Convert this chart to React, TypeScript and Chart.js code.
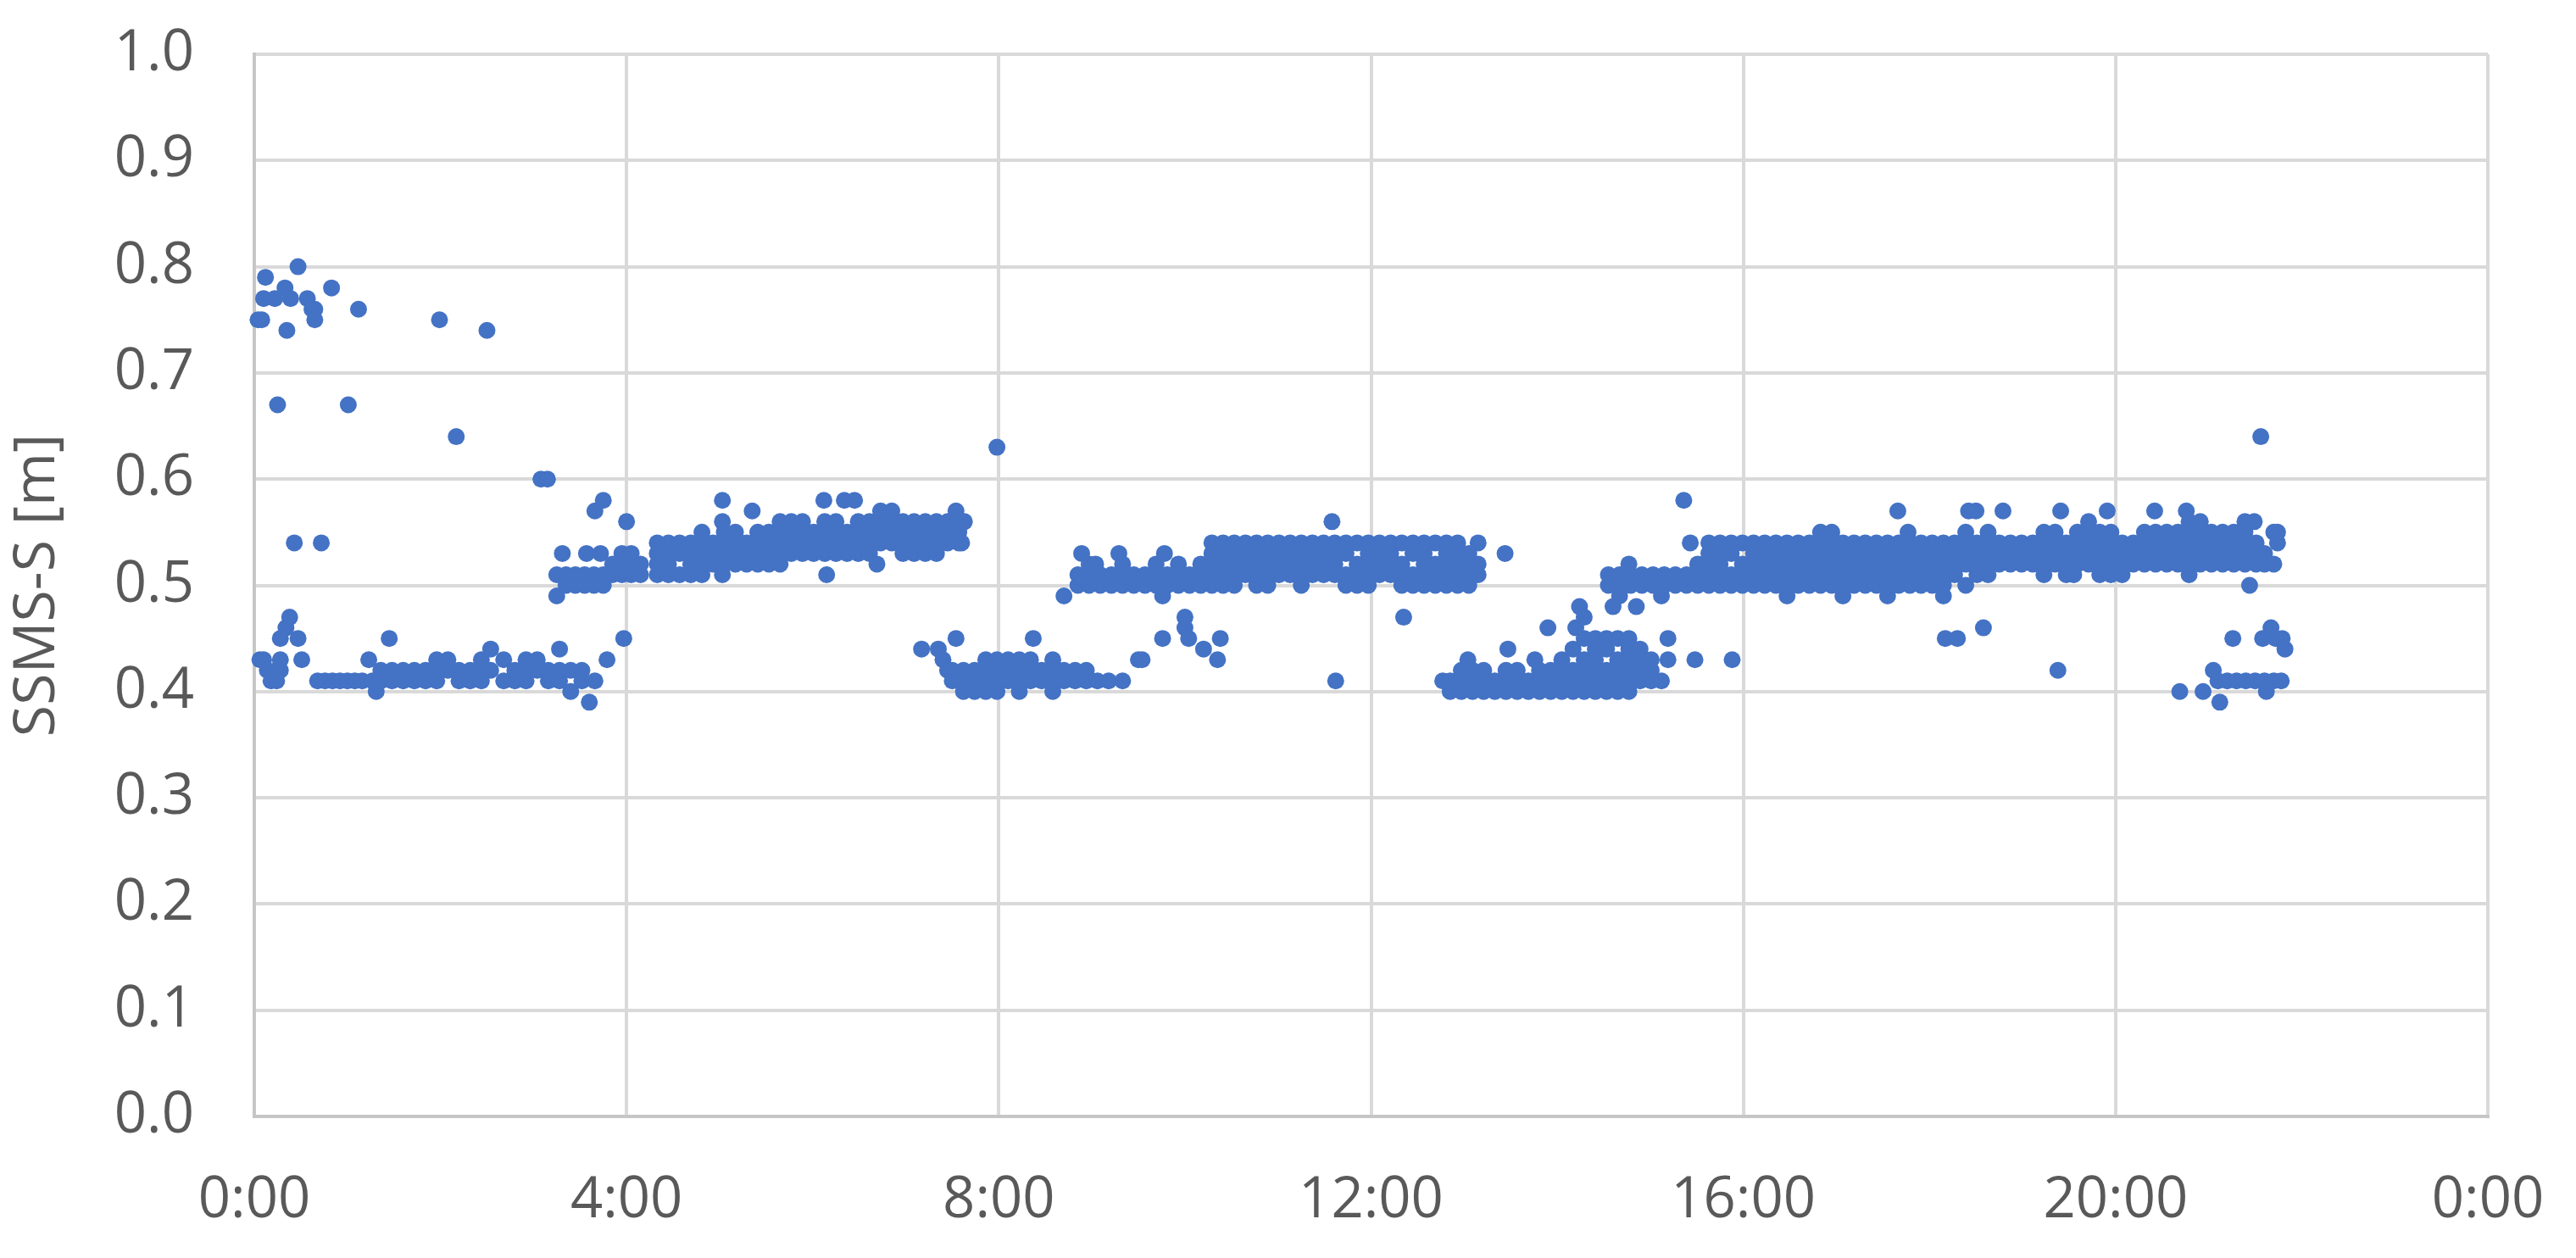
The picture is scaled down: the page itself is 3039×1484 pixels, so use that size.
import React, { useEffect, useRef } from "react";
import { Chart, registerables } from "chart.js";

Chart.register(...registerables);

// Each entry: [hour of day, value, value, ...].
const scatteredHigh: number[][] = [
  [0.04, 0.75], [0.08, 0.75], [0.10, 0.77], [0.12, 0.79], [0.22, 0.77], [0.25, 0.67],
  [0.33, 0.78], [0.35, 0.74], [0.39, 0.77], [0.43, 0.54], [0.47, 0.80], [0.57, 0.77],
  [0.62, 0.76], [0.65, 0.76, 0.75], [0.72, 0.54], [0.83, 0.78], [1.01, 0.67], [1.12, 0.76],
  [1.99, 0.75], [2.17, 0.64], [2.50, 0.74], [3.08, 0.60], [3.15, 0.60], [7.98, 0.63], [21.56, 0.64],
];

const lowBand0to4: number[][] = [
  [0.06, 0.43], [0.10, 0.43], [0.14, 0.42], [0.18, 0.41], [0.24, 0.41, 0.42], [0.28, 0.42, 0.43, 0.45],
  [0.34, 0.46], [0.38, 0.47], [0.47, 0.45], [0.51, 0.43], [0.68, 0.41], [0.76, 0.41], [0.84, 0.41],
  [0.92, 0.41], [1.00, 0.41], [1.08, 0.41], [1.16, 0.41], [1.23, 0.43], [1.27, 0.41], [1.31, 0.40],
  [1.36, 0.41, 0.42], [1.45, 0.45], [1.48, 0.41, 0.42], [1.60, 0.41, 0.42], [1.72, 0.41, 0.42],
  [1.84, 0.41, 0.42], [1.96, 0.41, 0.42, 0.43], [2.08, 0.42, 0.43], [2.20, 0.41, 0.42], [2.32, 0.41, 0.42],
  [2.44, 0.41, 0.42, 0.43], [2.54, 0.42, 0.44], [2.68, 0.41, 0.43], [2.80, 0.41, 0.42],
  [2.92, 0.41, 0.42, 0.43], [3.04, 0.42, 0.43], [3.16, 0.41, 0.42], [3.28, 0.41, 0.42, 0.44],
  [3.40, 0.40, 0.42], [3.52, 0.41, 0.42], [3.60, 0.39], [3.66, 0.41], [3.79, 0.43], [3.97, 0.45],
];

const midBand3to4: number[][] = [
  [3.25, 0.49, 0.51], [3.31, 0.53], [3.35, 0.50, 0.51], [3.45, 0.50, 0.51], [3.55, 0.50, 0.51],
  [3.57, 0.53], [3.65, 0.50, 0.51], [3.66, 0.57], [3.72, 0.53], [3.75, 0.50, 0.51, 0.58],
  [3.85, 0.51, 0.52], [3.95, 0.51, 0.52, 0.53], [4.00, 0.56], [4.05, 0.51, 0.52, 0.53], [4.15, 0.51, 0.52],
];

const highBand4to8: number[][] = [
  [4.33, 0.51, 0.52, 0.53, 0.54], [4.45, 0.51, 0.52, 0.53, 0.54], [4.57, 0.51, 0.53, 0.54],
  [4.69, 0.51, 0.52, 0.53, 0.54], [4.81, 0.51, 0.52, 0.53, 0.54, 0.55], [4.93, 0.52, 0.53, 0.54],
  [5.03, 0.58, 0.56, 0.51], [5.05, 0.52, 0.53, 0.54, 0.55], [5.17, 0.52, 0.53, 0.54, 0.55],
  [5.29, 0.52, 0.53, 0.54], [5.35, 0.57], [5.41, 0.52, 0.53, 0.54, 0.55], [5.53, 0.52, 0.53, 0.54, 0.55],
  [5.65, 0.52, 0.53, 0.54, 0.55, 0.56], [5.77, 0.53, 0.54, 0.55, 0.56], [5.89, 0.53, 0.54, 0.55, 0.56],
  [6.01, 0.53, 0.54, 0.55], [6.12, 0.58], [6.13, 0.53, 0.54, 0.55, 0.56], [6.15, 0.51],
  [6.25, 0.53, 0.54, 0.55, 0.56], [6.34, 0.58], [6.37, 0.53, 0.54, 0.55], [6.45, 0.58],
  [6.49, 0.53, 0.54, 0.55, 0.56], [6.61, 0.53, 0.54, 0.55, 0.56], [6.69, 0.52],
  [6.73, 0.54, 0.55, 0.56, 0.57], [6.85, 0.54, 0.55, 0.56, 0.57], [6.97, 0.53, 0.54, 0.55, 0.56],
  [7.09, 0.53, 0.54, 0.55, 0.56], [7.21, 0.53, 0.54, 0.55, 0.56], [7.33, 0.53, 0.54, 0.55, 0.56],
  [7.45, 0.54, 0.55, 0.56], [7.54, 0.57], [7.57, 0.54, 0.55, 0.56], [7.60, 0.54], [7.63, 0.56],
];

const lowBand7to10: number[][] = [
  [7.17, 0.44], [7.35, 0.44], [7.40, 0.43], [7.45, 0.42], [7.54, 0.45], [7.50, 0.41, 0.42],
  [7.62, 0.40, 0.41, 0.42], [7.74, 0.40, 0.41, 0.42], [7.86, 0.40, 0.41, 0.42, 0.43],
  [7.98, 0.40, 0.41, 0.42, 0.43], [8.10, 0.41, 0.42, 0.43], [8.22, 0.40, 0.41, 0.42, 0.43],
  [8.34, 0.41, 0.42, 0.43], [8.37, 0.45], [8.46, 0.41, 0.42], [8.58, 0.40, 0.41, 0.42, 0.43],
  [8.70, 0.41, 0.42], [8.82, 0.41, 0.42], [8.94, 0.41, 0.42], [9.06, 0.41], [9.18, 0.41],
  [9.33, 0.41], [9.50, 0.43],
];

const midBand9to13: number[][] = [
  [8.70, 0.49], [8.85, 0.50, 0.51], [8.89, 0.53], [8.97, 0.50, 0.51, 0.52], [9.04, 0.52],
  [9.09, 0.50, 0.51], [9.21, 0.50, 0.51], [9.29, 0.53], [9.33, 0.50, 0.51, 0.52], [9.45, 0.50, 0.51],
  [9.57, 0.50, 0.51], [9.69, 0.50, 0.51, 0.52], [9.76, 0.49], [9.78, 0.53], [9.81, 0.50, 0.51],
  [9.93, 0.50, 0.51, 0.52], [10.05, 0.50, 0.51], [10.17, 0.50, 0.51, 0.52],
  [10.29, 0.50, 0.51, 0.52, 0.53, 0.54], [10.41, 0.50, 0.51, 0.52, 0.53, 0.54],
  [10.53, 0.50, 0.51, 0.52, 0.53, 0.54], [10.65, 0.51, 0.52, 0.53, 0.54],
  [10.77, 0.50, 0.51, 0.52, 0.53, 0.54], [10.89, 0.50, 0.51, 0.52, 0.53, 0.54],
  [11.01, 0.51, 0.52, 0.53, 0.54], [11.13, 0.51, 0.52, 0.53, 0.54],
  [11.25, 0.50, 0.51, 0.52, 0.53, 0.54], [11.37, 0.51, 0.52, 0.53, 0.54],
  [11.49, 0.51, 0.52, 0.53, 0.54], [11.58, 0.56], [11.61, 0.51, 0.52, 0.53, 0.54],
  [11.73, 0.50, 0.51, 0.53, 0.54], [11.85, 0.50, 0.51, 0.52, 0.54],
  [11.97, 0.50, 0.51, 0.52, 0.53, 0.54], [12.09, 0.51, 0.52, 0.53, 0.54],
  [12.21, 0.51, 0.52, 0.53, 0.54], [12.33, 0.50, 0.51, 0.52, 0.54], [12.45, 0.50, 0.51, 0.53, 0.54],
  [12.57, 0.50, 0.51, 0.52, 0.53, 0.54], [12.69, 0.50, 0.51, 0.52, 0.54],
  [12.81, 0.50, 0.51, 0.52, 0.53, 0.54], [12.93, 0.50, 0.51, 0.52, 0.53, 0.54],
  [13.05, 0.50, 0.51, 0.52, 0.53], [13.15, 0.51, 0.52, 0.54], [13.44, 0.53],
  [9.54, 0.43], [9.76, 0.45], [10.00, 0.46, 0.47], [10.04, 0.45], [10.20, 0.44], [10.35, 0.43],
  [10.38, 0.45], [11.62, 0.41], [12.35, 0.47],
];

const lowBand13to16: number[][] = [
  [12.77, 0.41], [12.85, 0.40, 0.41], [12.97, 0.40, 0.41, 0.42], [13.04, 0.43], [13.09, 0.40, 0.41, 0.42],
  [13.21, 0.40, 0.41, 0.42], [13.33, 0.40, 0.41], [13.45, 0.40, 0.41, 0.42], [13.47, 0.44],
  [13.57, 0.40, 0.41, 0.42], [13.69, 0.40, 0.41], [13.76, 0.43], [13.81, 0.40, 0.41, 0.42],
  [13.90, 0.46], [13.93, 0.40, 0.41, 0.42], [14.05, 0.40, 0.41, 0.42, 0.43], [14.17, 0.40, 0.41, 0.42, 0.44],
  [14.20, 0.46], [14.24, 0.48], [14.29, 0.40, 0.41, 0.42, 0.43, 0.45, 0.47],
  [14.41, 0.40, 0.41, 0.42, 0.43, 0.44, 0.45], [14.53, 0.40, 0.41, 0.42, 0.44, 0.45],
  [14.65, 0.40, 0.41, 0.42, 0.43, 0.45], [14.77, 0.40, 0.41, 0.42, 0.43, 0.44, 0.45],
  [14.89, 0.41, 0.42, 0.43, 0.44], [15.01, 0.41, 0.42, 0.43], [15.12, 0.41], [15.19, 0.45, 0.43],
  [15.48, 0.43], [15.88, 0.43],
];

const midBand15to22: number[][] = [
  [14.55, 0.50, 0.51], [14.60, 0.48], [14.67, 0.49, 0.50, 0.51], [14.77, 0.52], [14.79, 0.50, 0.51],
  [14.85, 0.48], [14.91, 0.50, 0.51], [15.03, 0.50, 0.51], [15.12, 0.49], [15.15, 0.50, 0.51],
  [15.27, 0.50, 0.51], [15.36, 0.58], [15.39, 0.50, 0.51], [15.43, 0.54], [15.51, 0.50, 0.51, 0.52],
  [15.63, 0.50, 0.51, 0.52, 0.53, 0.54], [15.75, 0.50, 0.51, 0.52, 0.53, 0.54],
  [15.87, 0.50, 0.51, 0.53, 0.54], [15.99, 0.50, 0.51, 0.52, 0.54],
  [16.11, 0.50, 0.51, 0.52, 0.53, 0.54], [16.23, 0.50, 0.51, 0.52, 0.53, 0.54],
  [16.35, 0.50, 0.51, 0.52, 0.53, 0.54], [16.47, 0.49, 0.50, 0.51, 0.52, 0.53, 0.54],
  [16.59, 0.50, 0.51, 0.52, 0.53, 0.54], [16.71, 0.50, 0.51, 0.52, 0.53, 0.54],
  [16.83, 0.50, 0.51, 0.52, 0.53, 0.54, 0.55], [16.95, 0.50, 0.51, 0.52, 0.53, 0.54, 0.55],
  [17.07, 0.49, 0.50, 0.51, 0.52, 0.53, 0.54], [17.19, 0.50, 0.51, 0.52, 0.53, 0.54],
  [17.31, 0.50, 0.51, 0.52, 0.53, 0.54], [17.43, 0.50, 0.51, 0.52, 0.53, 0.54],
  [17.55, 0.49, 0.50, 0.51, 0.52, 0.53, 0.54], [17.66, 0.57], [17.67, 0.50, 0.51, 0.52, 0.53, 0.54],
  [17.77, 0.55], [17.79, 0.50, 0.51, 0.52, 0.53, 0.54], [17.91, 0.50, 0.51, 0.52, 0.53, 0.54],
  [18.03, 0.50, 0.51, 0.52, 0.53, 0.54], [18.15, 0.49, 0.50, 0.51, 0.52, 0.53, 0.54], [18.17, 0.45],
  [18.27, 0.51, 0.52, 0.53, 0.54], [18.30, 0.45], [18.39, 0.50, 0.52, 0.53, 0.54, 0.55], [18.42, 0.57],
  [18.50, 0.57], [18.51, 0.51, 0.52, 0.53, 0.54], [18.58, 0.46], [18.63, 0.51, 0.52, 0.53, 0.54, 0.55],
  [18.75, 0.52, 0.53, 0.54], [18.79, 0.57], [18.87, 0.52, 0.53, 0.54], [18.99, 0.52, 0.53, 0.54],
  [19.11, 0.52, 0.53, 0.54], [19.23, 0.51, 0.52, 0.53, 0.54, 0.55], [19.35, 0.52, 0.53, 0.54, 0.55],
  [19.38, 0.42], [19.41, 0.57], [19.47, 0.51, 0.52, 0.53, 0.54], [19.55, 0.51],
  [19.59, 0.52, 0.53, 0.54, 0.55], [19.71, 0.52, 0.53, 0.54, 0.55, 0.56],
  [19.83, 0.51, 0.52, 0.53, 0.54, 0.55], [19.91, 0.57], [19.95, 0.51, 0.52, 0.53, 0.54, 0.55],
  [20.07, 0.51, 0.52, 0.53, 0.54], [20.19, 0.52, 0.53, 0.54], [20.31, 0.52, 0.53, 0.54, 0.55],
  [20.42, 0.57], [20.43, 0.52, 0.53, 0.54, 0.55], [20.55, 0.52, 0.53, 0.54, 0.55],
  [20.67, 0.52, 0.53, 0.54, 0.55], [20.76, 0.57], [20.79, 0.51, 0.52, 0.53, 0.54, 0.55, 0.56],
  [20.91, 0.52, 0.53, 0.54, 0.55, 0.56], [21.03, 0.52, 0.53, 0.54, 0.55],
  [21.15, 0.52, 0.53, 0.54, 0.55], [21.27, 0.52, 0.53, 0.54, 0.55],
  [21.39, 0.52, 0.53, 0.54, 0.55, 0.56], [21.44, 0.50], [21.49, 0.56], [21.51, 0.52, 0.53, 0.54],
  [21.60, 0.52, 0.53], [21.70, 0.52, 0.55], [21.74, 0.54, 0.55],
];

const lowTail21to22: number[][] = [
  [20.69, 0.40], [20.94, 0.40], [21.05, 0.42], [21.10, 0.41], [21.12, 0.39], [21.20, 0.41],
  [21.26, 0.45], [21.30, 0.41], [21.40, 0.41], [21.50, 0.41], [21.58, 0.45], [21.60, 0.41],
  [21.62, 0.40], [21.67, 0.46], [21.70, 0.41], [21.72, 0.45], [21.78, 0.41], [21.79, 0.45], [21.82, 0.44],
];

const xTickHours = [0, 4, 8, 12, 16, 20, 24];
const xTickLabels = ["0:00", "4:00", "8:00", "12:00", "16:00", "20:00", "0:00"];
const yTickValues = [0, 0.1, 0.2, 0.3, 0.4, 0.5, 0.6, 0.7, 0.8, 0.9, 1.0];
const yAxisTitle = "SSMS-S [m]";

const allGroups = [scatteredHigh, lowBand0to4, midBand3to4, highBand4to8, lowBand7to10, midBand9to13, lowBand13to16, midBand15to22, lowTail21to22];

function toPoints(groups: number[][][]) {
  const pts: { x: number; y: number }[] = [];
  for (const g of groups) {
    for (const col of g) {
      for (let i = 1; i < col.length; i++) pts.push({ x: col[0], y: col[i] });
    }
  }
  return pts;
}

const FONT = "'Open Sans', 'Noto Sans', sans-serif";
const TEXT = "#595959";
const GRID = "#d9d9d9";
const AXIS = "#c6c6c6";

export default function App() {
  const ref = useRef<HTMLCanvasElement | null>(null);
  useEffect(() => {
    if (!ref.current) return;
    const chart = new Chart(ref.current, {
      type: "scatter",
      data: {
        datasets: [
          {
            data: toPoints(allGroups),
            backgroundColor: "#4472C4",
            borderColor: "#4472C4",
            borderWidth: 0,
            pointRadius: 10,
            pointHoverRadius: 10,
            clip: false as any,
          },
        ],
      },
      options: {
        animation: false,
        responsive: true,
        maintainAspectRatio: false,
        devicePixelRatio: 1,
        layout: { padding: { top: 64, right: 104, left: 0, bottom: 0 } },
        plugins: { legend: { display: false }, tooltip: { enabled: false } },
        scales: {
          x: {
            type: "linear",
            min: 0,
            max: 24,
            afterBuildTicks: (s: any) => {
              s.ticks = xTickHours.map((v) => ({ value: v }));
            },
            afterFit: (s: any) => {
              s.height = 167;
              s.paddingLeft = 0;
              s.paddingRight = 0;
            },
            ticks: {
              autoSkip: false,
              maxRotation: 0,
              padding: 60,
              color: TEXT,
              font: { family: FONT, size: 67 },
              callback: (v: any) => xTickLabels[xTickHours.indexOf(Number(v))] ?? "",
            },
            grid: { color: GRID, lineWidth: 4, drawTicks: false },
            border: { color: AXIS, width: 4 },
          },
          y: {
            min: 0,
            max: 1,
            afterBuildTicks: (s: any) => {
              s.ticks = yTickValues.map((v) => ({ value: v }));
            },
            afterFit: (s: any) => {
              s.width = 300;
              s.paddingTop = 0;
              s.paddingBottom = 0;
            },
            ticks: {
              padding: 71,
              color: TEXT,
              font: { family: FONT, size: 67 },
              callback: (v: any) => Number(v).toFixed(1),
            },
            grid: { color: GRID, lineWidth: 4, drawTicks: false },
            border: { color: AXIS, width: 4 },
            title: {
              display: true,
              text: yAxisTitle,
              color: TEXT,
              font: { family: FONT, size: 68 },
              padding: { top: 4, bottom: 0 },
            },
          },
        },
      },
    });
    return () => chart.destroy();
  }, []);
  return (
    <div style={{ position: "absolute", left: 0, top: 0, width: "3039px", height: "1484px", background: "#fff" }}>
      <canvas ref={ref} />
    </div>
  );
}
